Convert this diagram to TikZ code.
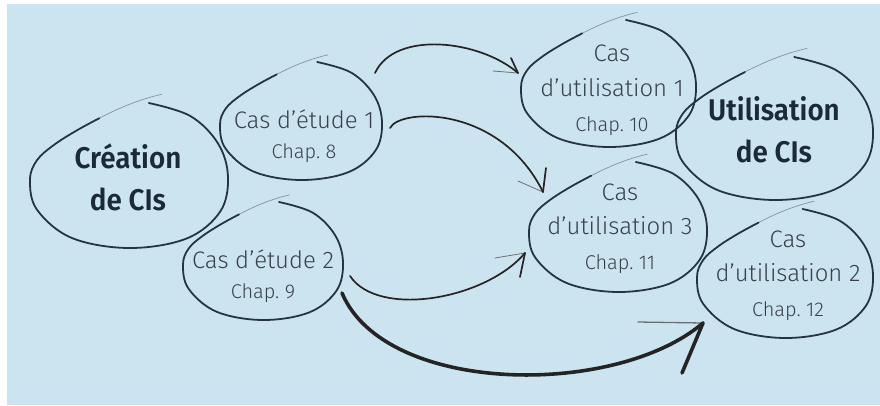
\documentclass[tikz,border=0pt]{standalone}
\usepackage{fontspec}
\setmainfont{Fira Sans}[UprightFont=* Light, BoldFont=* SemiBold, BoldFeatures={FakeStretch=0.93}]

\definecolor{panel}{RGB}{204,227,240}
\definecolor{ink}{RGB}{36,52,66}
\definecolor{txt}{RGB}{56,66,76}
\definecolor{titletxt}{RGB}{27,42,56}
\definecolor{pen}{RGB}{36,36,36}

\tikzset{
  eggline/.style={draw=ink, line width=1.8pt, line cap=round, line join=round},
  eggtail/.style={draw=ink, line width=0.7pt, line cap=round, opacity=0.45},
  casetext/.style={text=txt, align=center, inner sep=0pt, font=\fontsize{24}{35}\selectfont},
  studytext/.style={casetext, font=\fontsize{24}{30}\selectfont},
  titletext/.style={text=titletxt, align=center, inner sep=0pt, font=\bfseries\fontsize{30}{42.5}\selectfont},
  conn/.style={draw=pen, line width=1.7pt, line cap=round},
  bigconn/.style={draw=pen, line width=3.6pt, line cap=round},
  faintarm/.style={draw=pen, line width=0.8pt, line cap=round, opacity=0.6},
}

% hand-drawn egg outline: centre (#1,#2), half width #3, half height #4
\newcommand\eggshape[4]{%
  \begin{scope}[shift={(#1,#2)}, xscale=#3, yscale=#4]
    \draw[eggline] plot[smooth, tension=0.6] coordinates {
      (0.20,-1.0) (0.62,-0.82) (0.90,-0.44) (1.0,0.02) (0.92,0.50)
      (0.58,0.87) (0.0,1.0) (-0.58,0.86) (-0.93,0.47) (-1.0,0.06)
      (-0.93,-0.21) (-0.76,-0.42) (-0.53,-0.62) (-0.30,-0.79)};
    \draw[eggtail] (-0.30,-0.79) .. controls (-0.12,-0.92) and (0.10,-1.05) .. (0.33,-1.12);
  \end{scope}}

\newcommand\chapline[1]{{\fontsize{20}{30}\selectfont #1}}

\begin{document}
\begin{tikzpicture}[x=1bp, y=-1bp]
  \useasboundingbox (0,0) rectangle (880,405);
  \fill[white] (0,0) rectangle (880,405);
  \fill[panel] (7,4) rectangle (880,405);

  % outlines
  \eggshape{129}{175.5}{99}{72.5}
  \eggshape{301}{121}{81}{59}
  \eggshape{263}{261}{80}{59}
  \eggshape{608.5}{83.5}{87.5}{63.5}
  \eggshape{774.5}{128.5}{98.5}{71.5}
  \eggshape{618}{227}{89}{65}
  \eggshape{785}{273.5}{88}{64.5}

  % labels
  \node[titletext] (creation) at (128,177.6) {Création\\de CIs};
  \node[studytext] (etude1) at (304,136.5) {Cas d’étude 1\\\chapline{Chap.~8}};
  \node[studytext] (etude2) at (263,276.5) {Cas d’étude 2\\\chapline{Chap.~9}};
  \node[casetext] (util1) at (612,90) {Cas\\d’utilisation 1\\\chapline{Chap.~10}};
  \node[titletext] (usage) at (774,129.5) {Utilisation\\de CIs};
  \node[casetext] (util3) at (620,228.6) {Cas\\d’utilisation 3\\\chapline{Chap.~11}};
  \node[casetext] (util2) at (788,275.6) {Cas\\d’utilisation 2\\\chapline{Chap.~12}};

  % connector ends
  \coordinate (a1s) at (375,73);   \coordinate (a1t) at (518,73);
  \coordinate (a2s) at (390,128);  \coordinate (a2t) at (543,192);
  \coordinate (a3s) at (350,276);  \coordinate (a3t) at (525,253);
  \coordinate (a4s) at (342,293);  \coordinate (a4t) at (703,323);

  % Cas d'étude 1 -> Cas d'utilisation 1
  \draw[conn] (a1s) .. controls (395,30) and (480,40) .. (a1t);
  \draw[conn] (a1t) -- ++(-7,-15);
  \draw[faintarm] (a1t) -- ++(-25,-2);

  % Cas d'étude 1 -> Cas d'utilisation 3
  \draw[conn] (a2s) .. controls (400,108) and (500,105) .. (a2t);
  \draw[conn] (a2t) -- ++(3,-24);
  \draw[faintarm] (a2t) -- ++(-25,-11);

  % Cas d'étude 2 -> Cas d'utilisation 3
  \draw[conn] (a3s) .. controls (378,318) and (485,300) .. (a3t);
  \draw[conn] (a3t) -- ++(-5,24);
  \draw[faintarm] (a3t) -- ++(-30,5);

  % Cas d'étude 2 -> Cas d'utilisation 2
  \draw[bigconn] (a4s) .. controls (385,395) and (615,398) .. (a4t);
  \draw[bigconn] (a4t) -- ++(-21,50);
  \draw[faintarm, line width=1.3pt] (a4t) -- ++(-65,-1);
\end{tikzpicture}
\end{document}
